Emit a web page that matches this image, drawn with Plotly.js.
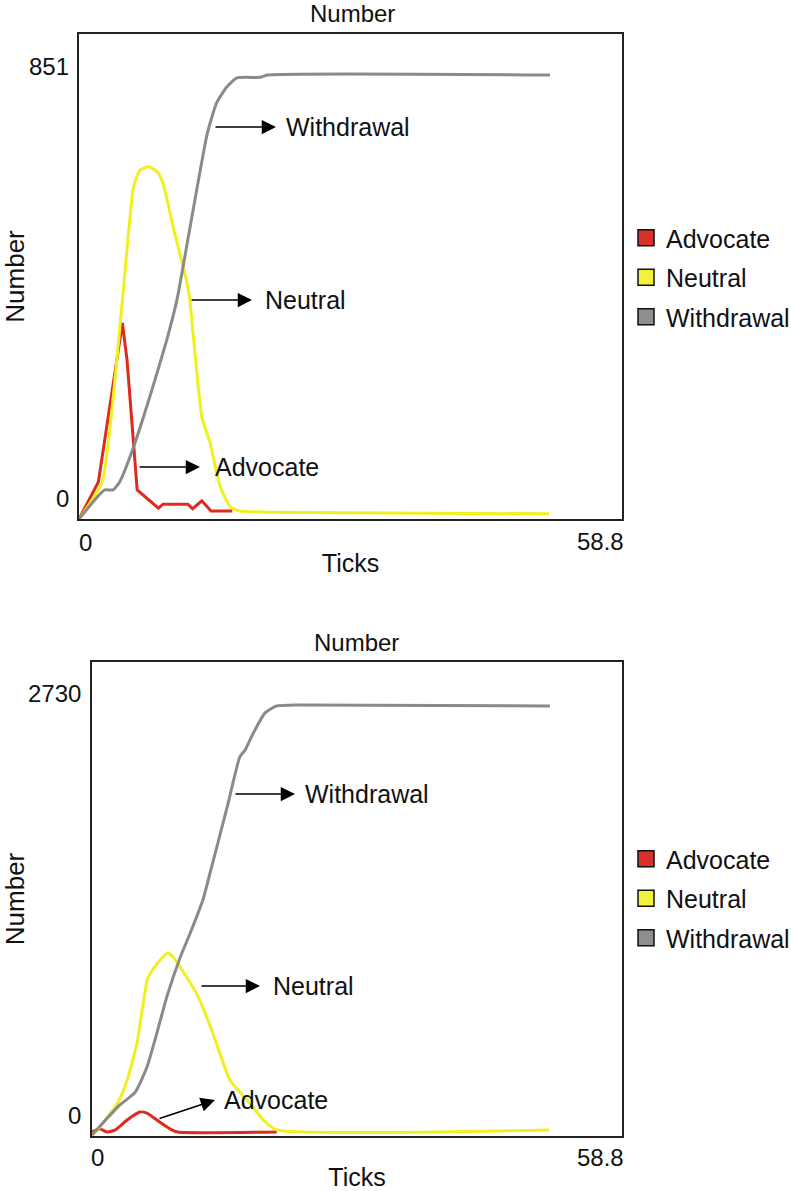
<!DOCTYPE html>
<html>
<head>
<meta charset="utf-8">
<script src="https://cdn.plot.ly/plotly-3.0.1.min.js"></script>
<style>html,body{margin:0;padding:0;background:#fff;}#chart{width:791px;height:1191px;}</style>
</head>
<body>
<div id="chart"></div>
<script>
// ---- Data ----
const seriesNames = ['Advocate', 'Neutral', 'Withdrawal'];
const xMax = 58.8;
const topYMax = 851;
const botYMax = 2730;
const topYLabels = ['851', '0'];
const botYLabels = ['2730', '0'];
const xLabels = ['0', '58.8'];
const panelTitle = 'Number';
const xTitle = 'Ticks';
const yTitle = 'Number';

// Top panel
const topTicksAdv = [0, 2.1, 4.7, 5.2, 6.3, 8.6, 9.1, 11.8, 12.3, 13.3, 14.3, 16.6];
const topAdv      = [0, 65, 344, 279, 51, 19, 26, 26, 18, 32, 14, 14];
const topTicksNeu = [0, 2.5, 4.7, 5.9, 6.6, 7.5, 8.5, 9.1, 10.2, 11.7, 12.0, 13.3, 14.2, 15.3, 16.4, 17.4, 20.4, 50.9];
const topNeu      = [0, 65, 384, 582, 612, 618, 609, 589, 512, 414, 384, 179, 133, 56, 21, 14, 12, 9];
const topTicksWd  = [0, 2.0, 2.8, 3.7, 4.4, 5.9, 8.0, 9.5, 10.6, 12.3, 13.9, 14.9, 16.0, 17.1, 19.6, 20.4, 51.0];
const topWd       = [0, 39, 51, 51, 65, 126, 232, 314, 384, 537, 677, 730, 758, 774, 775, 779, 779];

// Bottom panel
const botTicksAdv = [0, 0.9, 1.7, 2.6, 3.9, 5.3, 6.1, 7.5, 8.7, 9.5, 20.5];
const botAdv      = [23, 40, 23, 35, 92, 138, 132, 81, 40, 23, 23];
const botTicksNeu = [0, 0.9, 2.9, 3.9, 5.0, 6.2, 7.3, 8.4, 9.0, 10.0, 11.8, 13.4, 15.3, 17.5, 19.0, 20.5, 50.7];
const botNeu      = [6, 52, 196, 323, 536, 910, 997, 1054, 1031, 956, 801, 593, 323, 190, 92, 35, 35];
const botTicksWd  = [0, 1.2, 3.1, 4.8, 6.1, 7.2, 8.3, 9.8, 10.9, 12.3, 13.1, 15.0, 16.4, 17.0, 17.9, 19.2, 20.5, 23.1, 50.8];
const botWd       = [6, 75, 179, 253, 397, 593, 801, 1031, 1169, 1359, 1515, 1895, 2183, 2224, 2321, 2437, 2477, 2483, 2477];

// ---- Styling ----
const lineColors = ['#de2a1f', '#f0f01e', '#8a8a8a'];
const legendColors = ['#d9322a', '#f2f23a', '#8e8e8e'];
const FONT = 'Liberation Sans, Arial, sans-serif';
const W = 791, H = 1191;
const M = {l: 79, r: 169, t: 34, b: 55};
const PW = W - M.l - M.r, PH = H - M.t - M.b;
const px = x => (x - M.l) / PW;
const py = y => (H - M.b - y) / PH;

function line(x, y, i, xa, ya, shape) {
  return {x: x, y: y, type: 'scatter', mode: 'lines', xaxis: xa, yaxis: ya,
    line: {color: lineColors[i], width: 3, shape: shape || 'spline', smoothing: 0.5},
    showlegend: false, hoverinfo: 'skip'};
}
function legendItem(i, legend) {
  return {x: [null], y: [null], type: 'scatter', mode: 'markers', name: seriesNames[i],
    legend: legend, legendgroup: legend + i, showlegend: true,
    marker: {symbol: 'square', size: 18, color: legendColors[i], line: {color: '#111', width: 1.5}},
    xaxis: legend === 'legend' ? 'x' : 'x2', yaxis: legend === 'legend' ? 'y' : 'y2'};
}

const traces = [
  line(topTicksAdv, topAdv, 0, 'x', 'y', 'linear'),
  line(topTicksNeu, topNeu, 1, 'x', 'y'),
  line(topTicksWd, topWd, 2, 'x', 'y'),
  line(botTicksAdv, botAdv, 0, 'x2', 'y2'),
  line(botTicksNeu, botNeu, 1, 'x2', 'y2'),
  line(botTicksWd, botWd, 2, 'x2', 'y2'),
  legendItem(0, 'legend'), legendItem(1, 'legend'), legendItem(2, 'legend'),
  legendItem(0, 'legend2'), legendItem(1, 'legend2'), legendItem(2, 'legend2')
];

function txt(text, x, y, xanchor, size) {
  return {text: text, x: px(x), y: py(y), xref: 'paper', yref: 'paper', showarrow: false,
    xanchor: xanchor || 'center', yanchor: 'middle', font: {family: FONT, size: size || 24, color: '#111'}};
}
function arrow(tx, ty, hx, hy) {
  return {text: '', x: px(hx), y: py(hy), xref: 'paper', yref: 'paper', showarrow: true,
    ax: tx - hx, ay: ty - hy, axref: 'pixel', ayref: 'pixel',
    arrowhead: 2, arrowsize: 1.9, arrowwidth: 1.5, arrowcolor: '#000', standoff: 0, startstandoff: 0};
}

const annotations = [
  // panel titles
  txt(panelTitle, 352, 14, 'center'),
  txt(panelTitle, 356, 642, 'center'),
  // y tick labels
  txt(topYLabels[0], 71, 66, 'right'), txt(topYLabels[1], 71, 498, 'right'),
  txt(botYLabels[0], 83, 693, 'right'), txt(botYLabels[1], 83, 1115, 'right'),
  // x tick labels
  txt(xLabels[0], 77, 542, 'left'), txt(xLabels[1], 626, 541, 'right'),
  txt(xLabels[0], 89, 1157, 'left'), txt(xLabels[1], 626, 1157, 'right'),
  // top arrows
  arrow(214, 127, 276, 127), txt(seriesNames[2], 284, 127, 'left', 25),
  arrow(190, 300, 252, 300), txt(seriesNames[1], 263, 300, 'left', 25),
  arrow(138, 467, 200, 467), txt(seriesNames[0], 213, 467, 'left', 25),
  // bottom arrows
  arrow(234, 794, 295, 794), txt(seriesNames[2], 303, 794, 'left', 25),
  arrow(200, 986, 260, 986), txt(seriesNames[1], 271, 986, 'left', 25),
  arrow(158, 1119, 215, 1100), txt(seriesNames[0], 222, 1100, 'left', 25)
];

const axBase = {showgrid: false, zeroline: false, showline: true, mirror: true,
  linecolor: '#222', linewidth: 2, ticks: '', showticklabels: false, fixedrange: true};
const titleFont = {family: FONT, size: 25, color: '#111'};
const yTitleFont = {family: FONT, size: 26, color: '#111'};

const legendBase = {bgcolor: 'rgba(0,0,0,0)', borderwidth: 0, font: {family: FONT, size: 25, color: '#111'},
  traceorder: 'grouped', tracegroupgap: 4, xref: 'container', yref: 'container',
  xanchor: 'left', yanchor: 'top', itemclick: false, itemdoubleclick: false};

const layout = {
  width: W, height: H, margin: M, paper_bgcolor: '#fff', plot_bgcolor: '#fff',
  font: {family: FONT, size: 24, color: '#111'},
  xaxis: Object.assign({}, axBase, {domain: [0, 1], range: [0, xMax], anchor: 'y',
    title: {text: xTitle, font: titleFont, standoff: 34}}),
  yaxis: Object.assign({}, axBase, {domain: [py(519), 1], range: [0, topYMax], anchor: 'x',
    title: {text: yTitle, font: yTitleFont, standoff: 52}}),
  xaxis2: Object.assign({}, axBase, {domain: [px(92), 1], range: [0, xMax], anchor: 'y2',
    title: {text: xTitle, font: titleFont, standoff: 32}}),
  yaxis2: Object.assign({}, axBase, {domain: [0, py(662)], range: [0, botYMax], anchor: 'x2',
    title: {text: yTitle, font: yTitleFont, standoff: 65}}),
  legend: Object.assign({}, legendBase, {x: 626 / W, y: 1 - 215 / H}),
  legend2: Object.assign({}, legendBase, {x: 626 / W, y: 1 - 836 / H}),
  annotations: annotations,
  showlegend: true
};

Plotly.newPlot('chart', traces, layout, {displayModeBar: false, staticPlot: true});
</script>
</body>
</html>
